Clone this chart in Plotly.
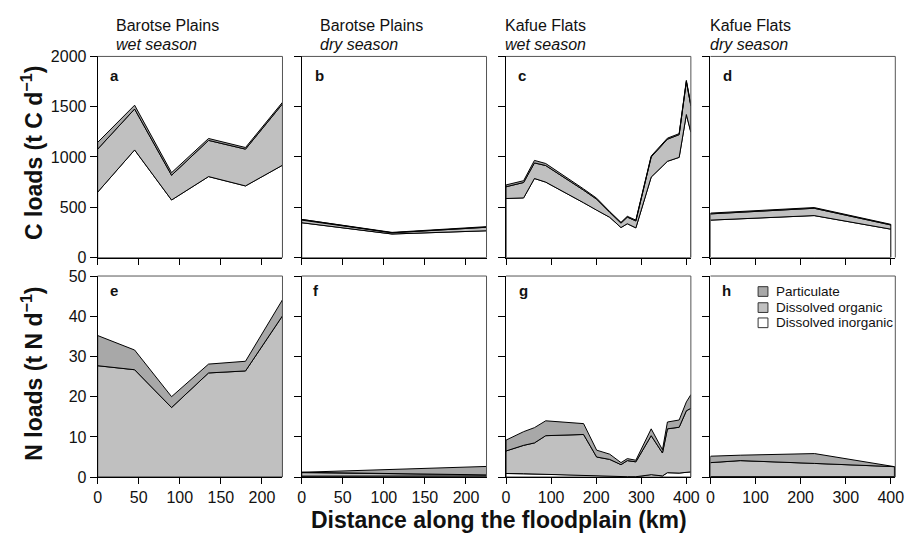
import numpy as np
import plotly.graph_objects as go

W, H = 912, 542
FONT = "Liberation Sans, Arial, Helvetica, sans-serif"

# ---------------- data ----------------
# Barotse Plains, wet season
bar_wet_x = [0, 45, 90, 135, 180, 225]
bar_wet_C_dic = [650, 1070, 572, 805, 712, 918]
bar_wet_C_doc = [428, 407, 246, 360, 366, 610]
bar_wet_C_poc = [67, 38, 26, 19, 16, 16]
bar_wet_N_din = [0, 0, 0, 0, 0, 0]
bar_wet_N_don = [27.7, 26.7, 17.3, 25.9, 26.4, 40.1]
bar_wet_N_pn = [7.5, 4.9, 2.7, 2.2, 2.4, 4.0]

# Barotse Plains, dry season
bar_dry_x = [0, 110, 225]
bar_dry_C_dic = [346, 234, 266]
bar_dry_C_doc = [26, 12, 35]
bar_dry_C_poc = [7, 4, 6]
bar_dry_N_din = [0.25, 0.25, 0.3]
bar_dry_N_don = [0.85, 0.55, 0.25]
bar_dry_N_pn = [0.1, 1.1, 2.1]

# Kafue Flats, wet season
kaf_wet_x = [0, 39, 63, 88, 172, 201, 230, 255, 269, 288, 322, 347, 358, 384, 400, 410]
kaf_wet_C_dic = [587, 593, 786, 750, 545, 471, 400, 298, 336, 295, 800, 908, 957, 996, 1422, 1246]
kaf_wet_C_doc = [117, 153, 155, 165, 125, 109, 49, 44, 66, 69, 200, 213, 220, 226, 328, 262]
kaf_wet_C_poc = [18, 18, 25, 20, 12, 10, 8, 8, 8, 8, 10, 10, 10, 10, 12, 12]
kaf_wet_N_din = [0.9, 0.85, 0.8, 0.75, 0.5, 0.4, 0.3, 0.15, 0.1, 0.1, 0.6, 0.3, 1.1, 1.0, 1.2, 1.3]
kaf_wet_N_don = [5.6, 7.05, 7.7, 9.55, 10.1, 4.6, 4.1, 2.95, 4.0, 3.7, 9.7, 5.7, 10.9, 11.4, 15.3, 15.8]
kaf_wet_N_pn = [2.7, 3.4, 3.8, 3.7, 2.7, 1.7, 1.3, 0.5, 0.5, 0.4, 1.7, 0.8, 1.7, 1.8, 2.2, 3.4]

# Kafue Flats, dry season
kaf_dry_Cx = [0, 230, 400]
kaf_dry_C_dic = [372, 417, 282]
kaf_dry_C_doc = [62, 73, 42]
kaf_dry_C_poc = [8, 7, 6]
kaf_dry_Nx = [0, 66, 231, 408]
kaf_dry_N_din = [0.1, 0.1, 0.1, 0.1]
kaf_dry_N_don = [3.5, 4.0, 3.3, 2.5]
kaf_dry_N_pn = [1.6, 1.35, 2.45, 0.05]

site_names = ["Barotse Plains", "Barotse Plains", "Kafue Flats", "Kafue Flats"]
season_names = ["wet season", "dry season", "wet season", "dry season"]
panel_letters = ["a", "b", "c", "d", "e", "f", "g", "h"]
legend_labels = ["Particulate", "Dissolved organic", "Dissolved inorganic"]
C_ticks = [0, 500, 1000, 1500, 2000]
N_ticks = [0, 10, 20, 30, 40, 50]
bar_ticks = [0, 50, 100, 150, 200]
kaf_ticks = [0, 100, 200, 300, 400]

COL_DIN = "#FFFFFF"
COL_DO = "#C0C0C0"
COL_P = "#A8A8A8"

panels = [
    (bar_wet_x, [bar_wet_C_dic, bar_wet_C_doc, bar_wet_C_poc], "C", 225),
    (bar_dry_x, [bar_dry_C_dic, bar_dry_C_doc, bar_dry_C_poc], "C", 225),
    (kaf_wet_x, [kaf_wet_C_dic, kaf_wet_C_doc, kaf_wet_C_poc], "C", 410),
    (kaf_dry_Cx, [kaf_dry_C_dic, kaf_dry_C_doc, kaf_dry_C_poc], "C", 410),
    (bar_wet_x, [bar_wet_N_din, bar_wet_N_don, bar_wet_N_pn], "N", 225),
    (bar_dry_x, [bar_dry_N_din, bar_dry_N_don, bar_dry_N_pn], "N", 225),
    (kaf_wet_x, [kaf_wet_N_din, kaf_wet_N_don, kaf_wet_N_pn], "N", 410),
    (kaf_dry_Nx, [kaf_dry_N_din, kaf_dry_N_don, kaf_dry_N_pn], "N", 410),
]

# ---------------- layout geometry (pixels) ----------------
col_left = [95, 302, 509.3, 716.7]
col_w = 187.5
row_top = [50, 276.7]
row_h = 207.6


def px2x(px):
    return px / W


def px2y(py):
    return 1 - py / H


fig = go.Figure()
layout = dict(
    width=W, height=H, margin=dict(l=0, r=0, t=0, b=0),
    paper_bgcolor="white", plot_bgcolor="white",
    showlegend=False, font=dict(family=FONT, size=16, color="#111"),
)
shapes = []
annotations = []

for i, (xs, comps, kind, xmax) in enumerate(panels):
    r, c = divmod(i, 4)
    xid = "x" if i == 0 else f"x{i+1}"
    yid = "y" if i == 0 else f"y{i+1}"
    xkey = "xaxis" if i == 0 else f"xaxis{i+1}"
    ykey = "yaxis" if i == 0 else f"yaxis{i+1}"

    cum = np.cumsum(np.array(comps, dtype=float), axis=0)
    lower = np.zeros(len(xs))
    for k, color in enumerate([COL_DIN, COL_DO, COL_P]):
        upper = cum[k]
        px_ = list(xs) + list(xs[::-1]) + [xs[0]]
        py_ = list(upper) + list(lower[::-1]) + [upper[0]]
        fig.add_trace(go.Scatter(
            x=px_, y=py_, mode="lines", fill="toself", fillcolor=color,
            line=dict(color="black", width=1), xaxis=xid, yaxis=yid,
            hoverinfo="skip",
        ))
        lower = upper

    x0 = col_left[c]
    x1 = x0 + col_w
    yt = row_top[r]
    yb = yt + row_h
    layout[xkey] = dict(
        domain=[px2x(x0), px2x(x1)], range=[0, xmax], anchor=yid,
        showline=True, linecolor="black", linewidth=1,
        ticks="outside", ticklen=6, tickcolor="black", tickwidth=1,
        tickvals=bar_ticks if xmax == 225 else kaf_ticks,
        showticklabels=(r == 1), showgrid=False, zeroline=False,
        tickfont=dict(family=FONT, size=16, color="#111"),
    )
    layout[ykey] = dict(
        domain=[px2y(yb), px2y(yt)], range=[0, 2000 if kind == "C" else 50],
        anchor=xid, showline=True, linecolor="black", linewidth=1,
        ticks="outside", ticklen=7, tickcolor="black", tickwidth=1,
        tickvals=C_ticks if kind == "C" else N_ticks,
        showticklabels=(c == 0), showgrid=False, zeroline=False,
        tickfont=dict(family=FONT, size=16, color="#111"),
    )
    # top and right frame
    shapes.append(dict(type="line", xref=f"{xid} domain", yref=f"{yid} domain",
                       x0=0, x1=1, y0=1, y1=1, line=dict(color="#555", width=1)))
    shapes.append(dict(type="line", xref=f"{xid} domain", yref=f"{yid} domain",
                       x0=1, x1=1, y0=0, y1=1, line=dict(color="#555", width=1)))

# panel titles
title_left = [111.7, 319, 506.7, 714]
for c in range(4):
    annotations.append(dict(x=px2x(title_left[c]), y=px2y(18), xref="paper", yref="paper",
                            text=site_names[c], showarrow=False, xanchor="left", yanchor="middle",
                            font=dict(family=FONT, size=16, color="#111")))
    annotations.append(dict(x=px2x(title_left[c]), y=px2y(38), xref="paper", yref="paper",
                            text=f"<i>{season_names[c]}</i>", showarrow=False, xanchor="left",
                            yanchor="middle", font=dict(family=FONT, size=16, color="#111")))

# panel letters
letter_x = [105, 313, 519, 727.7, 106, 311.7, 520, 726.7]
letter_y = [70, 70, 70, 70, 292, 292, 292, 292]
for i, L in enumerate(panel_letters):
    annotations.append(dict(x=px2x(letter_x[i]), y=px2y(letter_y[i]), xref="paper", yref="paper",
                            text=f"<b>{L}</b>", showarrow=False, xanchor="left", yanchor="middle",
                            font=dict(family=FONT, size=15, color="#111")))

# axis titles
annotations.append(dict(x=px2x(29), y=px2y(150), xref="paper", yref="paper",
                        text="<b>C loads (t C d<sup>\u22121</sup>)</b>", showarrow=False,
                        textangle=-90, xanchor="center", yanchor="middle",
                        font=dict(family=FONT, size=23, color="#111")))
annotations.append(dict(x=px2x(29), y=px2y(378), xref="paper", yref="paper",
                        text="<b>N loads (t N d<sup>\u22121</sup>)</b>", showarrow=False,
                        textangle=-90, xanchor="center", yanchor="middle",
                        font=dict(family=FONT, size=23, color="#111")))
annotations.append(dict(x=px2x(502), y=px2y(529), xref="paper", yref="paper",
                        text="<b>Distance along the floodplain (km)</b>", showarrow=False,
                        xanchor="center", yanchor="middle",
                        font=dict(family=FONT, size=23, color="#111")))

# legend in panel h
leg_rows = [292.7, 309.3, 325]
leg_cols = [COL_P, COL_DO, COL_DIN]
for j in range(3):
    shapes.append(dict(type="rect", xref="paper", yref="paper",
                       x0=px2x(765), x1=px2x(775), y0=px2y(leg_rows[j] + 5), y1=px2y(leg_rows[j] - 5),
                       fillcolor=leg_cols[j], line=dict(color="#333", width=1)))
    annotations.append(dict(x=px2x(781), y=px2y(leg_rows[j]), xref="paper", yref="paper",
                            text=legend_labels[j], showarrow=False, xanchor="left", yanchor="middle",
                            font=dict(family=FONT, size=13.5, color="#111")))

layout["shapes"] = shapes
layout["annotations"] = annotations
fig.update_layout(**layout)
fig.write_html("out.html")
